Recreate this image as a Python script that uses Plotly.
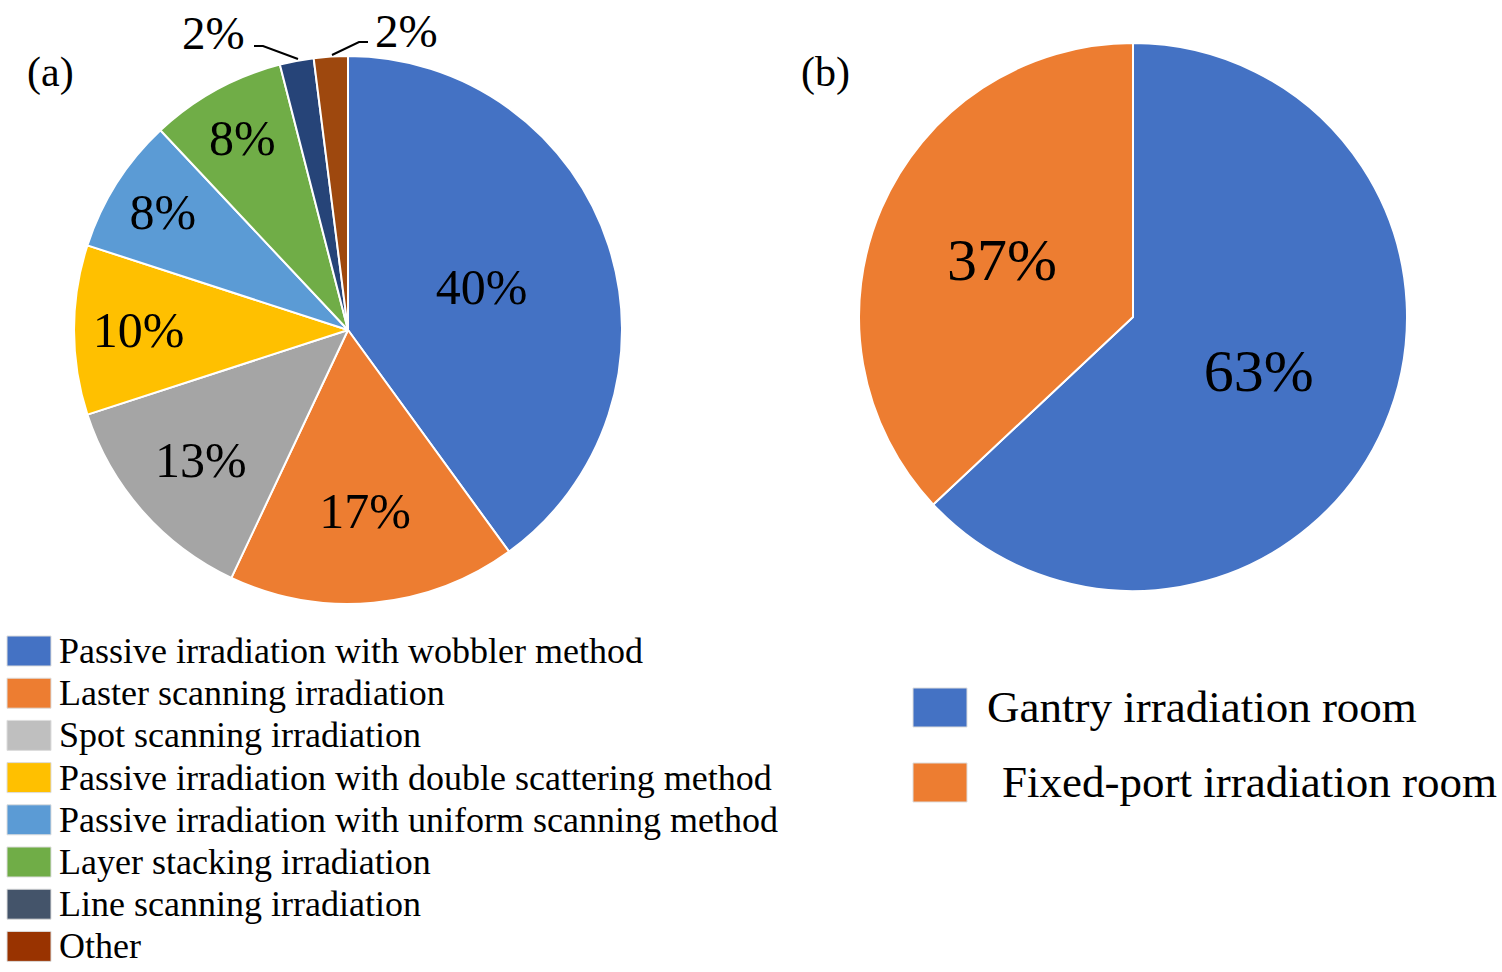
import plotly.graph_objects as go

W, H = 1502, 972
FONT = "Liberation Serif, Times New Roman, serif"

# ---- data (a) ----
labels_a = ["Passive irradiation with wobbler method", "Laster scanning irradiation",
            "Spot scanning irradiation", "Passive irradiation with double scattering method",
            "Passive irradiation with uniform scanning method", "Layer stacking irradiation",
            "Line scanning irradiation", "Other"]
values_a = [40, 17, 13, 10, 8, 8, 2, 2]
colors_a = ["#4472C4", "#ED7D31", "#A5A5A5", "#FFC000", "#5B9BD5", "#70AD47", "#264478", "#9E480E"]
legend_colors_a = ["#4472C4", "#ED7D31", "#BFBFBF", "#FFC000", "#5B9BD5", "#70AD47", "#44546A", "#993300"]
outside_a = [False, False, False, False, False, False, True, True]

# ---- data (b) ----
labels_b = ["Gantry irradiation room", "Fixed-port irradiation room"]
values_b = [63, 37]
colors_b = ["#4472C4", "#ED7D31"]


def px(x):
    return x / W


def py(y):
    return 1 - y / H


fig = go.Figure()

fig.add_trace(go.Pie(
    labels=labels_a, values=values_a, sort=False, direction="clockwise", rotation=0,
    marker=dict(colors=colors_a, line=dict(color="white", width=2)),
    texttemplate=["" if o else "%{value}%" for o in outside_a],
    textposition="inside", insidetextorientation="horizontal",
    insidetextfont=dict(family=FONT, size=50, color="black"),
    domain=dict(x=[px(74), px(622)], y=[py(604), py(56)]),
    showlegend=False, hoverinfo="label+value",
))

fig.add_trace(go.Pie(
    labels=labels_b, values=values_b, sort=False, direction="clockwise", rotation=0,
    marker=dict(colors=colors_b, line=dict(color="white", width=2)),
    texttemplate="%{value}%", textposition="inside", insidetextorientation="horizontal",
    insidetextfont=dict(family=FONT, size=60, color="black"),
    domain=dict(x=[px(859), px(1407)], y=[py(591), py(43)]),
    showlegend=False, hoverinfo="label+value",
))

annotations = []
shapes = []


def text_at(text, x, y, size, xanchor="center"):
    annotations.append(dict(text=text, x=px(x), y=py(y), xref="paper", yref="paper",
                            xanchor=xanchor, yanchor="middle", showarrow=False,
                            font=dict(family=FONT, size=size, color="black")))


# panel labels
text_at("(a)", 50, 72, 42)
text_at("(b)", 825, 72, 42)

# outside labels for the small slices with leader lines
small_idx = [i for i, o in enumerate(outside_a) if o]
label_pos = [(214, 33), (406, 31)]
leader_paths = [[(254, 46), (263, 46), (298, 59)], [(332, 55), (359, 42), (368, 42)]]
for k, i in enumerate(small_idx):
    lx, ly = label_pos[k]
    text_at(f"{values_a[i]}%", lx, ly, 47)
    pts = leader_paths[k]
    path = "M " + " L ".join(f"{px(x)},{py(y)}" for x, y in pts)
    shapes.append(dict(type="path", path=path, xref="paper", yref="paper",
                       line=dict(color="black", width=2)))

# legend (a)
row_y0, row_step = 651, 42.2
for i, (lab, col) in enumerate(zip(labels_a, legend_colors_a)):
    cy = row_y0 + i * row_step
    shapes.append(dict(type="rect", xref="paper", yref="paper",
                       x0=px(7), x1=px(51), y0=py(cy + 15), y1=py(cy - 15),
                       fillcolor=col, line=dict(width=1, color="#dddddd")))
    text_at(lab, 57, cy, 36, xanchor="left")

# legend (b)
rows_b = [707, 782]
text_x_b = [985, 1000]
for lab, col, cy, tx in zip(labels_b, colors_b, rows_b, text_x_b):
    shapes.append(dict(type="rect", xref="paper", yref="paper",
                       x0=px(913), x1=px(967), y0=py(cy + 20), y1=py(cy - 19),
                       fillcolor=col, line=dict(width=1, color="#dddddd")))
    text_at(lab, tx, cy, 45, xanchor="left")

fig.update_layout(
    width=W, height=H, margin=dict(l=0, r=0, t=0, b=0),
    paper_bgcolor="white", plot_bgcolor="white",
    annotations=annotations, shapes=shapes,
    font=dict(family=FONT),
)

fig.write_html("out.html")
